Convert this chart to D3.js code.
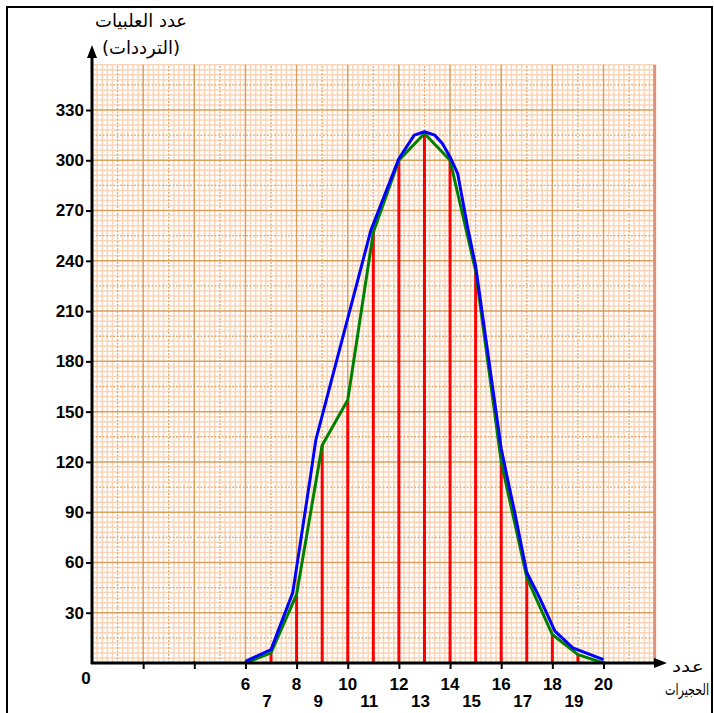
<!DOCTYPE html>
<html>
<head>
<meta charset="utf-8">
<script src="https://cdn.jsdelivr.net/npm/d3@7"></script>
<style>
  body { margin: 0; background: #fff; }
  svg { display: block; }
</style>
</head>
<body>
<svg id="chart"></svg>
<script>
// number of cells (x) and frequency (red bars)
const counts = [4, 6, 7, 8, 9, 10, 11, 12, 13, 14, 15, 16, 17, 18, 19, 20];
const freqs = [1, 1, 6, 41, 130, 157, 257, 300, 316, 300, 234, 120, 51, 17, 5, 1];

// frequency polygon (green)
const greenX = [6, 7, 8, 9, 10, 11, 12, 13, 14, 15, 16, 17, 18, 19, 20];
const greenY = [0, 6, 41, 130, 157, 257, 300, 316, 300, 234, 120, 51, 17, 5, 0];

// fitted curve (blue)
const blueX = [6, 7, 7.85, 8.55, 8.75, 10.9, 12, 12.6, 13, 13.4, 13.7, 14, 14.3, 14.7, 15, 16, 16.3, 16.5, 17, 17.5, 18.1, 18.8, 20];
const blueY = [1, 8, 42, 112, 133, 258, 301, 315, 317, 315, 310, 302, 292, 259, 237, 128, 106, 92, 54, 39, 19, 9, 2];

const yTicks = [30, 60, 90, 120, 150, 180, 210, 240, 270, 300, 330];
const evenLabels = [6, 8, 10, 12, 14, 16, 18, 20];
const oddLabels = [7, 9, 11, 13, 15, 17, 19];
const xTickMarks = [2, 4, 6, 8, 10, 12, 14, 16, 18, 20];

const yTitle = ['عدد العلبيات', '(الترددات)'];
const xTitle = ['عدد', 'الحجيرات'];

const gridXMax = 22;
const gridYMax = 357;

const W = 714, H = 713;
const svg = d3.select('#chart').attr('width', W).attr('height', H);

const xScale = d3.scaleLinear().domain([0, 20]).range([92, 603.5]);
const yScale = d3.scaleLinear().domain([0, 330]).range([663, 110]);

svg.append('rect').attr('width', W).attr('height', H).attr('fill', '#fff');

// graph paper
const grid = svg.append('g');
const x0 = xScale(0), x1 = xScale(gridXMax);
const y0 = yScale(0), y1 = yScale(gridYMax);

const minorX = d3.range(0, gridXMax * 5 + 1).filter(i => i % 5 !== 0).map(i => i / 5);
const minorY = d3.range(0, gridYMax / 3 + 1).filter(i => i % 5 !== 0).map(i => i * 3);
const midX = d3.range(1, gridXMax, 2);
const midY = d3.range(15, gridYMax, 30);
const majX = d3.range(2, gridXMax, 2);
const majY = d3.range(30, gridYMax, 30);

grid.selectAll('.mnx').data(minorX).enter().append('line')
  .attr('x1', d => xScale(d)).attr('x2', d => xScale(d))
  .attr('y1', y0).attr('y2', y1)
  .attr('stroke', '#fad4b6').attr('stroke-width', 1.5);
grid.selectAll('.mny').data(minorY).enter().append('line')
  .attr('y1', d => yScale(d)).attr('y2', d => yScale(d))
  .attr('x1', x0).attr('x2', x1)
  .attr('stroke', '#fad4b6').attr('stroke-width', 1.5);

grid.selectAll('.mdx').data(midX).enter().append('line')
  .attr('x1', d => xScale(d)).attr('x2', d => xScale(d))
  .attr('y1', y0).attr('y2', y1)
  .attr('stroke', '#e6a869').attr('stroke-width', 1.3).attr('stroke-dasharray', '2,1.5');
grid.selectAll('.mdy').data(midY).enter().append('line')
  .attr('y1', d => yScale(d)).attr('y2', d => yScale(d))
  .attr('x1', x0).attr('x2', x1)
  .attr('stroke', '#e6a869').attr('stroke-width', 1.3).attr('stroke-dasharray', '2,1.5');

grid.selectAll('.mjx').data(majX).enter().append('line')
  .attr('x1', d => xScale(d)).attr('x2', d => xScale(d))
  .attr('y1', y0).attr('y2', y1)
  .attr('stroke', '#d99f5c').attr('stroke-width', 1.5);
grid.selectAll('.mjy').data(majY).enter().append('line')
  .attr('y1', d => yScale(d)).attr('y2', d => yScale(d))
  .attr('x1', x0).attr('x2', x1)
  .attr('stroke', '#d99f5c').attr('stroke-width', 1.5);

// right edge of the paper
grid.append('line')
  .attr('x1', x1).attr('x2', x1).attr('y1', y0).attr('y2', y1)
  .attr('stroke', '#e0917a').attr('stroke-width', 3);

// red frequency bars
svg.selectAll('.bar').data(counts).enter().append('line')
  .attr('x1', d => xScale(d)).attr('x2', d => xScale(d))
  .attr('y1', yScale(0)).attr('y2', (d, i) => yScale(freqs[i]))
  .attr('stroke', '#ff0000').attr('stroke-width', 3);

const line = d3.line().x(d => xScale(d[0])).y(d => yScale(d[1]));

svg.append('path')
  .datum(greenX.map((x, i) => [x, greenY[i]]))
  .attr('d', line)
  .attr('fill', 'none').attr('stroke', '#008000').attr('stroke-width', 3)
  .attr('stroke-linejoin', 'round');

svg.append('path')
  .datum(blueX.map((x, i) => [x, blueY[i]]))
  .attr('d', line)
  .attr('fill', 'none').attr('stroke', '#0000ff').attr('stroke-width', 3)
  .attr('stroke-linejoin', 'round');

// axes
const axisFont = 'Liberation Sans, Arial, sans-serif';

svg.append('g')
  .attr('transform', `translate(${xScale(0)},0)`)
  .call(d3.axisLeft(yScale).tickValues(yTicks).tickSize(6).tickPadding(2))
  .call(g => g.select('.domain').remove())
  .call(g => g.selectAll('line').attr('stroke', '#000').attr('stroke-width', 2))
  .call(g => g.selectAll('text')
    .attr('font-family', axisFont).attr('font-size', 17).attr('font-weight', 'bold')
    .attr('fill', '#000'));

svg.append('g')
  .attr('transform', `translate(0,${yScale(0)})`)
  .call(d3.axisBottom(xScale).tickValues(xTickMarks).tickSize(6).tickFormat(''))
  .call(g => g.select('.domain').remove())
  .call(g => g.selectAll('line').attr('stroke', '#000').attr('stroke-width', 2));

// axis lines with arrows
svg.append('line')
  .attr('x1', xScale(0)).attr('x2', xScale(0))
  .attr('y1', yScale(0) + 1).attr('y2', 56)
  .attr('stroke', '#000').attr('stroke-width', 3);
svg.append('path')
  .attr('d', `M${xScale(0) - 5},58 L${xScale(0)},45 L${xScale(0) + 5},58 Z`)
  .attr('fill', '#000');

svg.append('line')
  .attr('x1', xScale(0) - 1).attr('x2', 656)
  .attr('y1', yScale(0)).attr('y2', yScale(0))
  .attr('stroke', '#000').attr('stroke-width', 3);
svg.append('path')
  .attr('d', `M654,${yScale(0) - 5} L667,${yScale(0)} L654,${yScale(0) + 5} Z`)
  .attr('fill', '#000');

// x labels
svg.selectAll('.xe').data(evenLabels).enter().append('text')
  .attr('x', d => xScale(d)).attr('y', 690)
  .attr('text-anchor', 'middle')
  .attr('font-family', axisFont).attr('font-size', 17).attr('font-weight', 'bold')
  .text(d => d);
svg.selectAll('.xo').data(oddLabels).enter().append('text')
  .attr('x', d => xScale(d) - 4).attr('y', 707)
  .attr('text-anchor', 'middle')
  .attr('font-family', axisFont).attr('font-size', 17).attr('font-weight', 'bold')
  .text(d => d);
svg.append('text')
  .attr('x', 86).attr('y', 684)
  .attr('text-anchor', 'middle')
  .attr('font-family', axisFont).attr('font-size', 17).attr('font-weight', 'bold')
  .text('0');

// titles
const arFont = 'DejaVu Sans, Noto Sans, sans-serif';
svg.selectAll('.yt').data(yTitle).enter().append('text')
  .attr('x', 141)
  .attr('y', (d, i) => 27 + i * 27)
  .attr('text-anchor', 'middle').attr('direction', 'rtl')
  .attr('font-family', arFont).attr('font-size', 18)
  .attr('textLength', (d, i) => i === 0 ? 92 : 78)
  .attr('lengthAdjust', 'spacingAndGlyphs')
  .text(d => d);
svg.selectAll('.xt').data(xTitle).enter().append('text')
  .attr('x', (d, i) => i === 0 ? 688 : 687)
  .attr('y', (d, i) => 672 + i * 23)
  .attr('text-anchor', 'middle')
  .attr('font-family', arFont).attr('font-size', 16)
  .attr('textLength', (d, i) => i === 0 ? 32 : 44)
  .attr('lengthAdjust', 'spacingAndGlyphs')
  .text(d => d);

// frame
svg.append('path')
  .attr('d', 'M7,720 L7,7 L712,7 L712,720')
  .attr('fill', 'none').attr('stroke', '#000').attr('stroke-width', 2);
</script>
</body>
</html>
